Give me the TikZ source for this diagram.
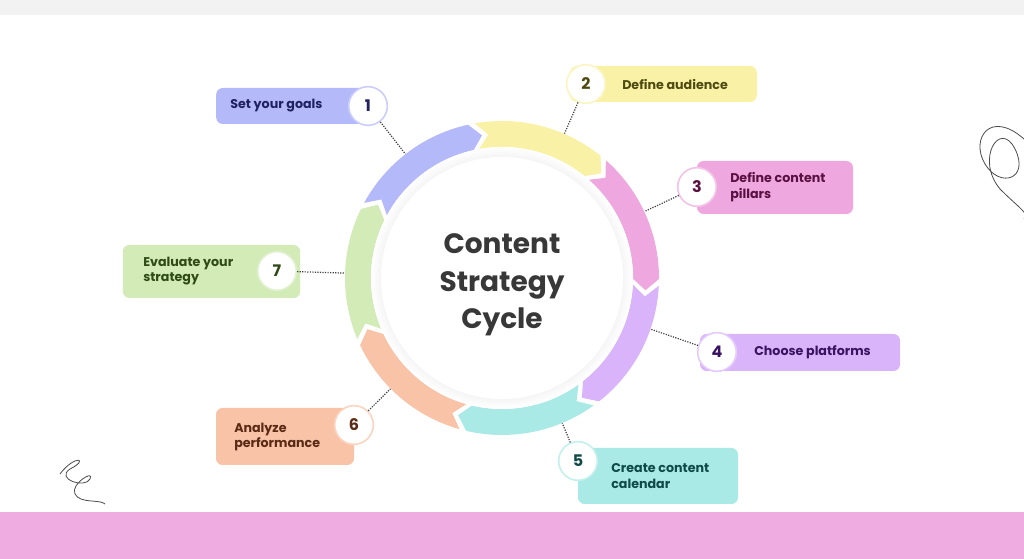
\documentclass[tikz,border=0pt]{standalone}
\usepackage{fontspec}
\setmainfont{Poppins}
\usetikzlibrary{calc}
\definecolor{sblue}{HTML}{B4B9F9}
\definecolor{syellow}{HTML}{F9F2A6}
\definecolor{spink}{HTML}{EEA8DF}
\definecolor{spurple}{HTML}{DAB4FA}
\definecolor{scyan}{HTML}{A9E9E6}
\definecolor{speach}{HTML}{F8C3A6}
\definecolor{sgreen}{HTML}{D2EBB7}
\definecolor{tblue}{HTML}{1E2260}
\definecolor{tyellow}{HTML}{4E4A10}
\definecolor{tpink}{HTML}{5A1040}
\definecolor{tpurple}{HTML}{3A1460}
\definecolor{tcyan}{HTML}{0F4A48}
\definecolor{tpeach}{HTML}{5A2A14}
\definecolor{tgreen}{HTML}{2F4A14}
\tikzset{
  stepbox/.style={rounded corners=5pt, minimum height=#1*0.75pt, inner sep=0pt},
  stepnum/.style={circle, fill=white, draw=#1!70, line width=1.2pt, minimum size=29pt,
    inner sep=0pt, font=\bfseries\large},
  steptext/.style={anchor=west, align=left, font=\bfseries\fontsize{9.5}{11.5}\selectfont, inner sep=0pt},
  link/.style={densely dotted, line width=0.9pt, black!75},
  scribble/.style={line width=0.6pt, black!70}
}
\begin{document}
\begin{tikzpicture}[x=0.75pt,y=0.75pt]
  \useasboundingbox (0,0) rectangle (1024,559);
  \fill[white] (0,0) rectangle (1024,559);

  % Top strip and bottom band
  \fill[black!5] (0,544) rectangle (1024,559);
  \fill[spink!95!white] (0,0) rectangle (1024,47);

  % Ring
  \coordinate (ctr) at (502,281);
  \begin{scope}[shift={(502,281)}]
    \foreach \c [count=\k from 0] in {sblue,syellow,spink,spurple,scyan,speach,sgreen} {
      \pgfmathsetmacro\s{151.43-51.43*\k}
      \pgfmathsetmacro\e{\s-51.43+2.5}
      \fill[\c] (\s:157) arc[start angle=\s, end angle=\e, radius=157]
        -- (\e-4.5:144) -- (\e:131)
        arc[start angle=\e, end angle=\s, radius=131]
        -- (\s-4.5:144) -- cycle;
    }
    % Inner disk with soft shadow
    \fill[white] (0,0) circle (131);
    \foreach \i in {8,6,...,0} {
      \fill[black, opacity=0.008] (0,0) circle (122+\i);
    }
    \fill[white] (0,0) circle (121);
  \end{scope}
  \node[align=center, font=\bfseries\fontsize{21}{28}\selectfont, text=black!78] (title) at (502,274)
    {Content\\Strategy\\Cycle};

  % Step 1
  \node[stepbox=36, fill=sblue, minimum width=119pt] (b1) at (295.5,453) {};
  \node[steptext, text=tblue] (t1) at (230,453) {Set your goals};
  \node[stepnum=sblue, text=tblue] (n1) at (368,453) {1};
  \draw[link] (n1) -- ($(ctr)!118pt!(n1)$);

  % Step 2
  \node[stepbox=36, fill=syellow, minimum width=140pt] (b2) at (663.5,475) {};
  \node[steptext, text=tyellow] (t2) at (622,475) {Define audience};
  \node[stepnum=syellow, text=tyellow] (n2) at (586,475) {2};
  \draw[link] (n2) -- ($(ctr)!118pt!(n2)$);

  % Step 3
  \node[stepbox=53, fill=spink, minimum width=117pt] (b3) at (775,371.5) {};
  \node[steptext, text=tpink] (t3) at (730,372) {Define content\\pillars};
  \node[stepnum=spink, text=tpink] (n3) at (697,372) {3};
  \draw[link] (n3) -- ($(ctr)!118pt!(n3)$);

  % Step 4
  \node[stepbox=37, fill=spurple, minimum width=150pt] (b4) at (800,206.5) {};
  \node[steptext, text=tpurple] (t4) at (754,207) {Choose platforms};
  \node[stepnum=spurple, text=tpurple] (n4) at (717,207) {4};
  \draw[link] (n4) -- ($(ctr)!118pt!(n4)$);

  % Step 5
  \node[stepbox=56, fill=scyan, minimum width=120pt] (b5) at (658,83) {};
  \node[steptext, text=tcyan] (t5) at (611,83) {Create content\\calendar};
  \node[stepnum=scyan, text=tcyan] (n5) at (578,98) {5};
  \draw[link] (n5) -- ($(ctr)!118pt!(n5)$);

  % Step 6
  \node[stepbox=57, fill=speach, minimum width=103.5pt] (b6) at (285,122.5) {};
  \node[steptext, text=tpeach] (t6) at (234,122) {Analyze\\performance};
  \node[stepnum=speach, text=tpeach] (n6) at (354,134) {6};
  \draw[link] (n6) -- ($(ctr)!118pt!(n6)$);

  % Step 7
  \node[stepbox=53, fill=sgreen, minimum width=133pt] (b7) at (211.5,287.5) {};
  \node[steptext, text=tgreen] (t7) at (143,288) {Evaluate your\\strategy};
  \node[stepnum=sgreen, text=tgreen] (n7) at (277,288) {7};
  \draw[link] (n7) -- ($(ctr)!118pt!(n7)$);

  % Scribbles
  \draw[scribble] (1024,420) .. controls (990,450) and (970,420) .. (985,395)
    .. controls (1000,370) and (1030,380) .. (1015,410)
    .. controls (1000,440) and (975,400) .. (1000,370)
    .. controls (1020,350) and (1030,345) .. (1024,340);
  \draw[scribble] (60,85) .. controls (75,105) and (90,100) .. (70,90)
    .. controls (55,80) and (85,70) .. (90,80)
    .. controls (95,90) and (70,75) .. (75,65)
    .. controls (80,55) and (100,60) .. (105,55);
\end{tikzpicture}
\end{document}
